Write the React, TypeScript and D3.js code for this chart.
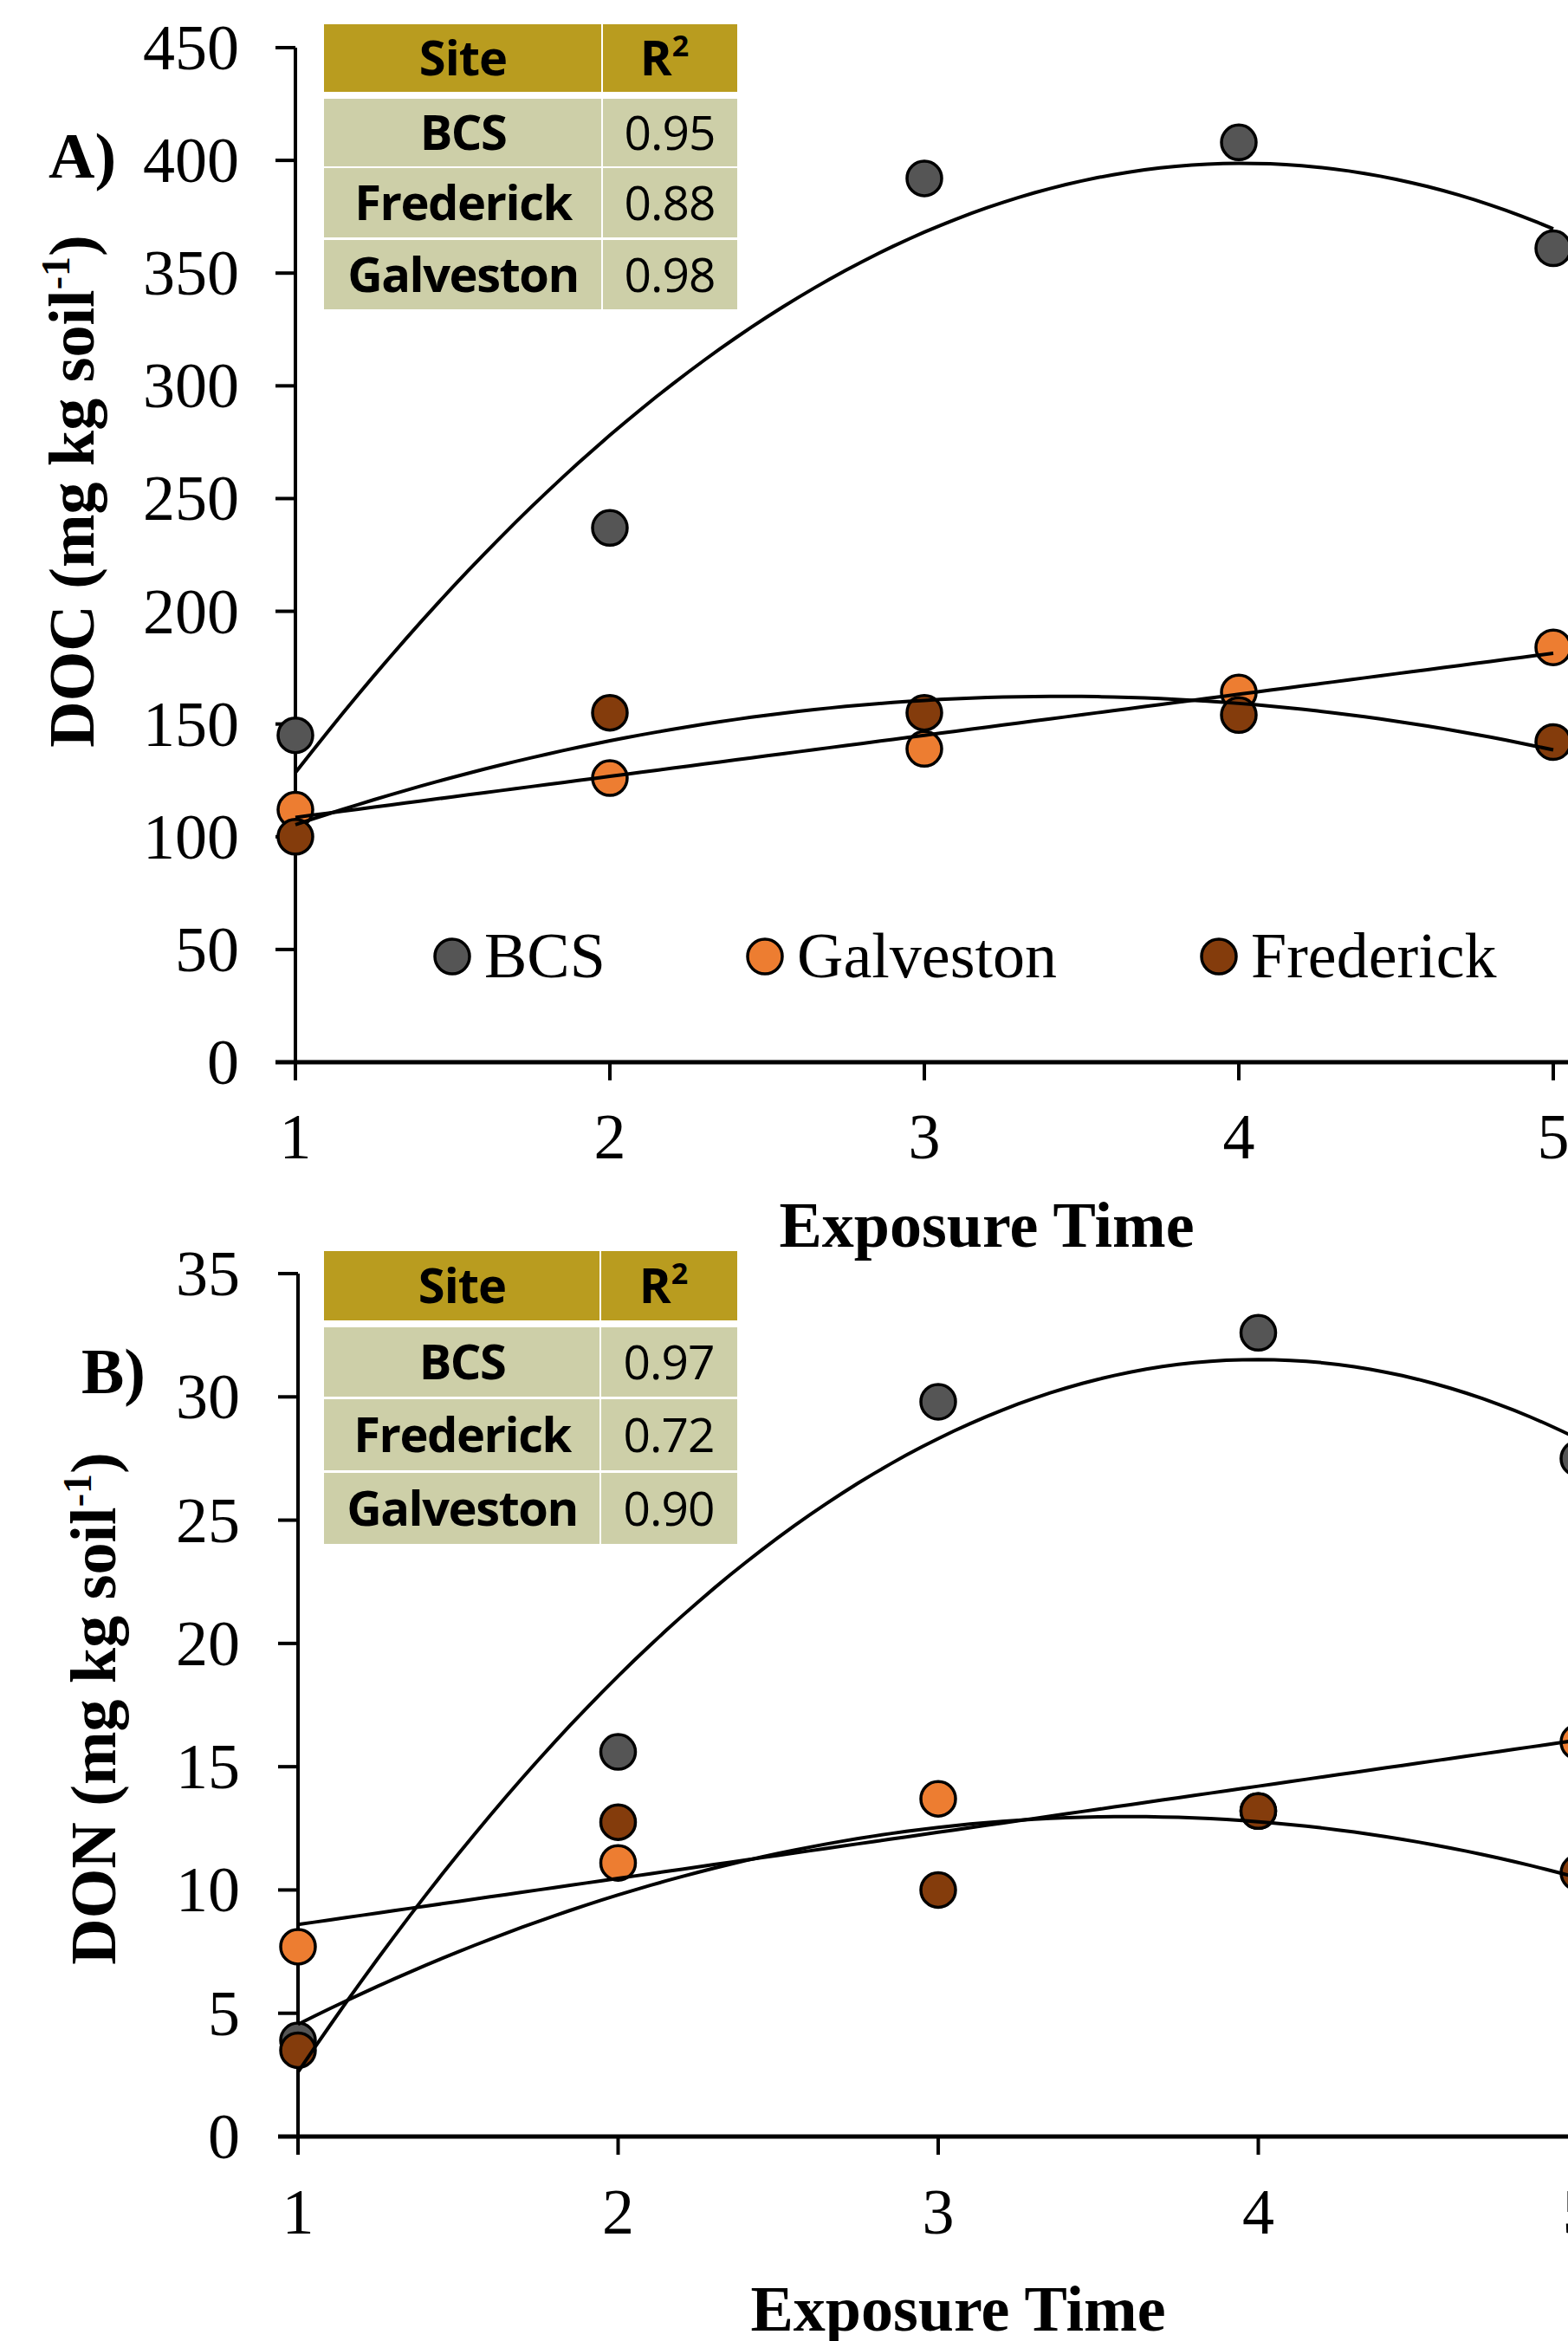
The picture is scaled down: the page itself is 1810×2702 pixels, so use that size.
import React from "react";
import * as d3 from "d3";

// ---- data ----
const exposureTimes = [1, 2, 3, 4, 5];
const docBCS = [145, 237, 392, 408, 361];
const docGalveston = [112, 126, 139, 164, 184];
const docFrederick = [100, 155, 155, 154, 142];
const donBCS = [3.9, 15.6, 29.8, 32.6, 27.5];
const donGalveston = [7.7, 11.1, 13.7, 13.2, 16.0];
const donFrederick = [3.5, 12.75, 10.0, 13.2, 10.7];
const docTicks = [0, 50, 100, 150, 200, 250, 300, 350, 400, 450];
const donTicks = [0, 5, 10, 15, 20, 25, 30, 35];
const tableSites = ["BCS", "Frederick", "Galveston"];
const docR2 = ["0.95", "0.88", "0.98"];
const donR2 = ["0.97", "0.72", "0.90"];
const legendSites = ["BCS", "Galveston", "Frederick"];

const COLORS: Record<string, string> = {
  BCS: "#555555",
  Galveston: "#ED7D31",
  Frederick: "#843C0C",
};

const SERIF = "'Liberation Serif', 'Times New Roman', serif";
const SANS = "'Open Sans', 'Noto Sans', sans-serif";

// least squares polynomial fit
function polyfit(xs: number[], ys: number[], deg: number): number[] {
  const n = deg + 1;
  const A: number[][] = [];
  for (let i = 0; i < n; i++) {
    A.push([]);
    for (let j = 0; j < n; j++) {
      A[i].push(d3.sum(xs, (x) => Math.pow(x, i + j)));
    }
    A[i].push(d3.sum(xs, (x, k) => Math.pow(x, i) * ys[k]));
  }
  for (let c = 0; c < n; c++) {
    let p = c;
    for (let r = c + 1; r < n; r++) if (Math.abs(A[r][c]) > Math.abs(A[p][c])) p = r;
    [A[c], A[p]] = [A[p], A[c]];
    for (let r = 0; r < n; r++) {
      if (r === c) continue;
      const f = A[r][c] / A[c][c];
      for (let k = c; k <= n; k++) A[r][k] -= f * A[c][k];
    }
  }
  return A.map((row, i) => row[n] / row[i]);
}

type Series = { name: string; values: number[]; deg: number };

type PanelProps = {
  label: string;
  labelX: number;
  labelY: number;
  yTitle: string;
  yTitleX: number;
  yTitleY: number;
  x0: number;
  x1: number;
  yTop: number;
  yBottom: number;
  yMax: number;
  ticks: number[];
  tickLabelX: number;
  series: Series[];
  r2: string[];
  table: { top: number; header: [number, number]; rows: [number, number][]; col: number };
  xTitleX: number;
  xTitleY: number;
  xLabelY: number;
  legendY?: number;
};

function Panel(p: PanelProps) {
  const x = d3.scaleLinear().domain([1, 5]).range([p.x0, p.x1]);
  const y = d3.scaleLinear().domain([0, p.yMax]).range([p.yBottom, p.yTop]);
  const line = d3
    .line<[number, number]>()
    .x((d) => x(d[0]))
    .y((d) => y(d[1]))
    .curve(d3.curveLinear);

  const tableLeft = 374;
  const tableRight = 851;
  const col = p.table.col;
  const rows = p.table.rows;

  return (
    <g>
      {/* table */}
      <g>
        <rect x={tableLeft} y={p.table.header[0]} width={col - tableLeft - 1} height={p.table.header[1] - p.table.header[0]} fill="#B99C1F" />
        <rect x={col + 1} y={p.table.header[0]} width={tableRight - col - 1} height={p.table.header[1] - p.table.header[0]} fill="#B99C1F" />
        <text x={(tableLeft + col) / 2} y={(p.table.header[0] + p.table.header[1]) / 2 + 20} textAnchor="middle" fontFamily={SANS} fontWeight={700} fontSize={56} letterSpacing={-1}>Site</text>
        <text x={(col + tableRight) / 2 - 6} y={(p.table.header[0] + p.table.header[1]) / 2 + 20} textAnchor="middle" fontFamily={SANS} fontWeight={700} fontSize={56}>
          R<tspan fontSize={34} dy={-22}>2</tspan>
        </text>
        {rows.map((r, i) => (
          <g key={i}>
            <rect x={tableLeft} y={r[0]} width={col - tableLeft - 1} height={r[1] - r[0]} fill="#CDCFA8" />
            <rect x={col + 1} y={r[0]} width={tableRight - col - 1} height={r[1] - r[0]} fill="#CDCFA8" />
            <text x={(tableLeft + col) / 2} y={(r[0] + r[1]) / 2 + 20} textAnchor="middle" fontFamily={SANS} fontWeight={700} fontSize={56} letterSpacing={-1.5}>{tableSites[i]}</text>
            <text x={(col + tableRight) / 2} y={(r[0] + r[1]) / 2 + 20} textAnchor="middle" fontFamily={SANS} fontSize={55} letterSpacing={-1}>{p.r2[i]}</text>
          </g>
        ))}
      </g>

      {/* panel label */}
      <text x={p.labelX} y={p.labelY} fontFamily={SERIF} fontWeight={700} fontSize={74}>{p.label}</text>

      {/* y title */}
      <text transform={`translate(${p.yTitleX},${p.yTitleY}) rotate(-90)`} textAnchor="middle" fontFamily={SERIF} fontWeight={700} fontSize={74}>
        {p.yTitle} (mg kg soil<tspan fontSize={46} dy={-28}>-1</tspan><tspan dy={28}>)</tspan>
      </text>

      {/* axes */}
      <line x1={p.x0} x2={p.x0} y1={p.yTop} y2={p.yBottom + 21} stroke="#000" strokeWidth={4} />
      <line x1={p.x0 - 23} x2={1820} y1={p.yBottom} y2={p.yBottom} stroke="#000" strokeWidth={5} />
      {p.ticks.map((t) => (
        <g key={t}>
          <line x1={p.x0 - 23} x2={p.x0} y1={y(t)} y2={y(t)} stroke="#000" strokeWidth={4} />
          <text x={p.tickLabelX} y={y(t) + 25} textAnchor="end" fontFamily={SERIF} fontSize={74}>{t}</text>
        </g>
      ))}
      {exposureTimes.map((t) => (
        <g key={t}>
          <line x1={x(t)} x2={x(t)} y1={p.yBottom} y2={p.yBottom + 21} stroke="#000" strokeWidth={4} />
          <text x={x(t)} y={p.xLabelY} textAnchor="middle" fontFamily={SERIF} fontSize={74}>{t}</text>
        </g>
      ))}
      <text x={p.xTitleX} y={p.xTitleY} textAnchor="middle" fontFamily={SERIF} fontWeight={700} fontSize={74}>Exposure Time</text>

      {/* markers */}
      {p.series.map((s) => (
        <g key={s.name}>
          {s.values.map((v, i) => (
            <circle key={i} cx={x(exposureTimes[i])} cy={y(v)} r={20} fill={COLORS[s.name]} stroke="#000" strokeWidth={3.5} />
          ))}
        </g>
      ))}

      {/* trend lines */}
      {p.series.map((s) => {
        const coef = polyfit(exposureTimes, s.values, s.deg);
        const pts: [number, number][] = d3.range(1, 5.0001, 0.05).map((t) => [t, coef.reduce((acc, c, k) => acc + c * Math.pow(t, k), 0)]);
        return <path key={s.name} d={line(pts) || ""} fill="none" stroke="#000" strokeWidth={4} />;
      })}

      {/* legend */}
      {p.legendY !== undefined &&
        legendSites.map((name, i) => {
          const mx = [522, 883, 1407][i];
          return (
            <g key={name}>
              <circle cx={mx} cy={p.legendY} r={20} fill={COLORS[name]} stroke="#000" strokeWidth={3.5} />
              <text x={mx + 37} y={(p.legendY as number) + 24} fontFamily={SERIF} fontSize={74}>{name}</text>
            </g>
          );
        })}
    </g>
  );
}

export default function App() {
  return (
    <svg
      width={1810}
      height={2702}
      viewBox="0 0 1810 2702"
      style={{ position: "absolute", left: 0, top: 0, background: "#fff", display: "block" }}
    >
      <rect x={0} y={0} width={1810} height={2702} fill="#fff" />
      <Panel
        label="A)"
        labelX={56}
        labelY={205}
        yTitle="DOC"
        yTitleX={108}
        yTitleY={567}
        x0={341}
        x1={1793}
        yTop={55}
        yBottom={1226}
        yMax={450}
        ticks={docTicks}
        tickLabelX={276}
        series={[
          { name: "BCS", values: docBCS, deg: 2 },
          { name: "Galveston", values: docGalveston, deg: 1 },
          { name: "Frederick", values: docFrederick, deg: 2 },
        ]}
        r2={docR2}
        table={{ top: 28, header: [28, 106], rows: [[114, 192], [194, 274], [277, 357]], col: 695 }}
        xTitleX={1139}
        xTitleY={1439}
        xLabelY={1337}
        legendY={1104}
      />
      <Panel
        label="B)"
        labelX={94}
        labelY={1608}
        yTitle="DON"
        yTitleX={133}
        yTitleY={1972}
        x0={344}
        x1={1822}
        yTop={1470}
        yBottom={2466}
        yMax={35}
        ticks={donTicks}
        tickLabelX={277}
        series={[
          { name: "BCS", values: donBCS, deg: 2 },
          { name: "Galveston", values: donGalveston, deg: 1 },
          { name: "Frederick", values: donFrederick, deg: 2 },
        ]}
        r2={donR2}
        table={{ top: 1444, header: [1444, 1524], rows: [[1532, 1612], [1615, 1697], [1700, 1782]], col: 693 }}
        xTitleX={1106}
        xTitleY={2690}
        xLabelY={2578}
      />
    </svg>
  );
}
